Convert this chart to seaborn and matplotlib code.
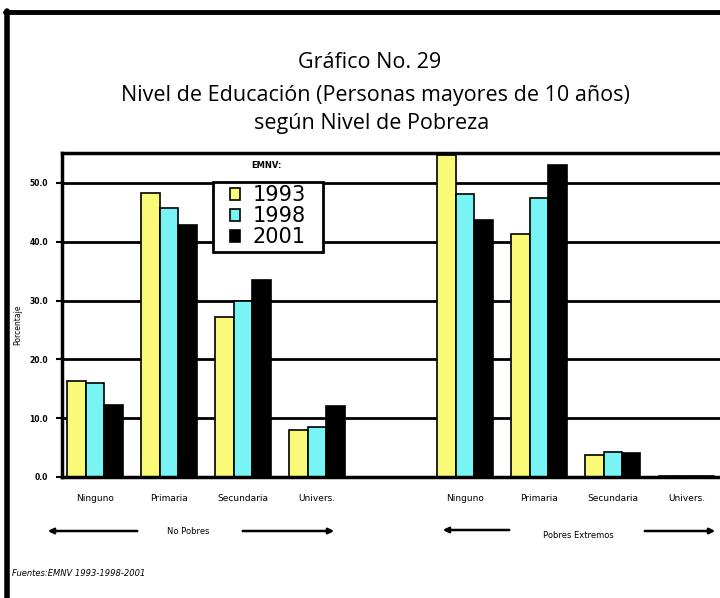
import matplotlib

matplotlib.use("Agg")
import matplotlib.pyplot as plt
from matplotlib.lines import Line2D
from matplotlib.patches import Rectangle
import pandas as pd
import seaborn as sns

# data (percent)
niveles = ["Ninguno", "Primaria", "Secundaria", "Univers."]
grupos = ["No Pobres", "Pobres Extremos"]
anios = ["1993", "1998", "2001"]
no_pobres_1993 = [16.3, 48.3, 27.2, 8.0]
no_pobres_1998 = [16.0, 45.7, 29.9, 8.5]
no_pobres_2001 = [12.2, 42.9, 33.5, 12.1]
extremos_1993 = [54.8, 41.4, 3.7, 0.2]
extremos_1998 = [48.2, 47.5, 4.3, 0.2]
extremos_2001 = [43.7, 53.1, 4.0, 0.2]
colores = ["#fafa78", "#78f4f4", "#000000"]

series = {
    ("No Pobres", "1993"): no_pobres_1993,
    ("No Pobres", "1998"): no_pobres_1998,
    ("No Pobres", "2001"): no_pobres_2001,
    ("Pobres Extremos", "1993"): extremos_1993,
    ("Pobres Extremos", "1998"): extremos_1998,
    ("Pobres Extremos", "2001"): extremos_2001,
}
rows = []
for (g, a), vals in series.items():
    for n, v in zip(niveles, vals):
        rows.append({"cat": f"{n}|{g}", "anio": a, "valor": v})
df = pd.DataFrame(rows)
# empty slot between the two poverty groups
order = [f"{n}|{grupos[0]}" for n in niveles] + [" "] + [f"{n}|{grupos[1]}" for n in niveles]

sns.set_theme(style="white")
plt.rcParams["font.family"] = ["DejaVu Sans"]
plt.rcParams.update({"text.color": "black", "xtick.color": "black", "ytick.color": "black"})

fig = plt.figure(figsize=(7.2, 5.98), dpi=100)
ax = fig.add_axes([62 / 720, 1 - 477 / 598, 1 - 62 / 720, (477 - 153) / 598])

sns.barplot(data=df, x="cat", y="valor", hue="anio", order=order, hue_order=anios,
            palette=colores, width=0.75, edgecolor="black", linewidth=1.2,
            saturation=1, ax=ax)

ax.set_ylim(0, 55.1)
ax.set_xlim(-0.446, 8.45)
ax.set_yticks([0, 10, 20, 30, 40, 50])
ax.set_yticklabels([f"{v:.1f}" for v in [0, 10, 20, 30, 40, 50]],
                   fontsize=5.5, fontweight="bold")
ax.set_xticks(range(len(order)))
ax.set_xticklabels(niveles + [""] + niveles, fontsize=6.5, family="Liberation Sans Narrow")
ax.tick_params(axis="x", length=0, pad=12)
ax.tick_params(axis="y", length=4, width=1.5, direction="out", left=True, pad=6)
ax.set_xlabel("")
ax.set_ylabel("")
ax.yaxis.grid(True, color="black", linewidth=2)
ax.set_axisbelow(True)
for side in ["left", "bottom", "top"]:
    ax.spines[side].set_color("black")
    ax.spines[side].set_linewidth(2.5)
ax.spines["right"].set_visible(False)

# legend: boxed, with its title above the box
ax.add_patch(Rectangle((213 / 720, 1 - 252 / 598), 110 / 720, 70 / 598,
                       transform=fig.transFigure, facecolor="white", edgecolor="black",
                       linewidth=2, zorder=4))
handles, labels = ax.get_legend_handles_labels()
leg = ax.legend(handles, labels, loc="upper left", bbox_to_anchor=(0.255, 0.9),
                borderaxespad=0, borderpad=0, frameon=False, fontsize=15,
                handlelength=0.5, handleheight=0.55, handletextpad=0.6, labelspacing=0.05)
leg.set_zorder(5)
fig.text(266 / 720, 1 - 166 / 598, "EMNV:", ha="center", va="center",
         fontsize=6, fontweight="bold")

# titles
fig.text(370 / 720, 1 - 62 / 598, "Gráfico No. 29", ha="center", va="center",
         fontsize=15.5, family="Open Sans")
fig.text(375 / 720, 1 - 95 / 598, "Nivel de Educación (Personas mayores de 10 años)",
         ha="center", va="center", fontsize=15.5, family="Open Sans")
fig.text(372 / 720, 1 - 124 / 598, "según Nivel de Pobreza", ha="center", va="center",
         fontsize=15.5, family="Open Sans")

fig.text(18 / 720, 1 - 325 / 598, "Porcentaje", rotation=90, ha="center", va="center",
         fontsize=5.5)

# group arrows below the axis
arrow = dict(arrowstyle="-|>", color="black", lw=1.8, mutation_scale=8)
for x0, x1, y in [(140, 45, 531), (240, 337, 531), (512, 440, 530), (642, 718, 531)]:
    ax.annotate("", xy=(x1 / 720, 1 - y / 598), xytext=(x0 / 720, 1 - y / 598),
                xycoords="figure fraction", textcoords="figure fraction", arrowprops=arrow)
fig.text(188 / 720, 1 - 531 / 598, "No Pobres", ha="center", va="center", fontsize=6,
         family="Liberation Sans Narrow")
fig.text(578 / 720, 1 - 535 / 598, "Pobres Extremos", ha="center", va="center", fontsize=6,
         family="Liberation Sans Narrow")

fig.text(12 / 720, 1 - 573 / 598, "Fuentes:EMNV 1993-1998-2001", ha="left", va="center",
         fontsize=6, fontstyle="italic", family="Liberation Sans Narrow")

# outer frame (left and top edges)
fig.add_artist(Line2D([7 / 720, 7 / 720], [0, 1 - 11 / 598], color="black", lw=4))
fig.add_artist(Line2D([5 / 720, 1], [1 - 12 / 598, 1 - 12 / 598], color="black", lw=3.5))

fig.savefig("out.png", dpi=100)
